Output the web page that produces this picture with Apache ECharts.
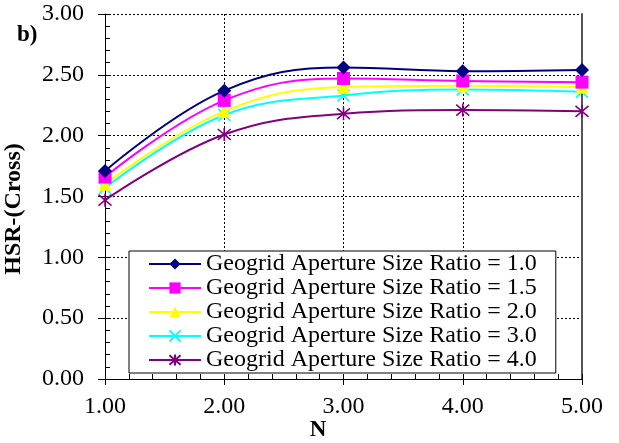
<!DOCTYPE html>
<html><head><meta charset="utf-8">
<script src="https://cdn.jsdelivr.net/npm/echarts@6/dist/echarts.min.js"></script>
<style>html,body{margin:0;padding:0;background:#fff}#c{width:619px;height:443px}</style>
</head><body><div id="c"></div>
<script>
const xValues = [1, 2, 3, 4, 5];
const seriesNames = [
  'Geogrid Aperture Size Ratio = 1.0',
  'Geogrid Aperture Size Ratio = 1.5',
  'Geogrid Aperture Size Ratio = 2.0',
  'Geogrid Aperture Size Ratio = 3.0',
  'Geogrid Aperture Size Ratio = 4.0'
];
const ratio10 = [1.71, 2.37, 2.56, 2.53, 2.54];
const ratio15 = [1.66, 2.29, 2.47, 2.45, 2.44];
const ratio20 = [1.60, 2.20, 2.40, 2.41, 2.40];
const ratio30 = [1.57, 2.17, 2.33, 2.38, 2.36];
const ratio40 = [1.47, 2.01, 2.18, 2.21, 2.20];
const yTickLabels = ['0.00','0.50','1.00','1.50','2.00','2.50','3.00'];
const xTickLabels = ['1.00','2.00','3.00','4.00','5.00'];

const FONT = '"Liberation Serif", "Times New Roman", serif';
const colors = ['#000080', '#FF00FF', '#FFFF00', '#00FFFF', '#800080'];
const symbols = [
  'diamond', 'rect', 'triangle',
  'path://M0,0L10,10M10,0L0,10',
  'path://M5,0L5,10M0.8,0.8L9.2,9.2M9.2,0.8L0.8,9.2'
];
const sizes = [14, 13, 13, 12, 13];
const allData = [ratio10, ratio15, ratio20, ratio30, ratio40];

const series = allData.map((vals, i) => ({
  name: seriesNames[i],
  type: 'line',
  smooth: 0.4,
  xAxisIndex: 0, yAxisIndex: 0,
  data: vals.map((v, j) => [xValues[j], v]),
  symbol: symbols[i],
  symbolSize: sizes[i],
  showAllSymbol: true,
  lineStyle: { color: colors[i], width: 2 },
  itemStyle: i >= 3
    ? { color: 'rgba(0,0,0,0)', borderColor: colors[i], borderWidth: 1.6 }
    : { color: colors[i], borderColor: colors[i], borderWidth: 0 },
  emphasis: { disabled: true },
  z: 10 - i
}));

const chart = echarts.init(document.getElementById('c'), null, { renderer: 'canvas' });
chart.setOption({
  animation: false,
  backgroundColor: '#fff',
  grid: { left: 105, right: 37, top: 14, bottom: 64, containLabel: false },
  xAxis: [
    {
      type: 'value', min: 1, max: 5, interval: 1, position: 'bottom',
      axisLine: { show: true, lineStyle: { color: '#000', width: 1 } },
      axisTick: { show: true, inside: false, length: 6, lineStyle: { color: '#000' } },
      axisLabel: {
        margin: 16, fontFamily: FONT, fontSize: 24, color: '#000',
        formatter: v => xTickLabels[xValues.indexOf(v)] || ''
      },
      splitLine: { show: true, lineStyle: { color: '#000', type: [2, 2], width: 1 } }
    },
    {
      type: 'value', min: 1, max: 5, interval: 0.2, position: 'bottom',
      axisLine: { show: false },
      axisTick: { show: true, inside: true, length: 5, lineStyle: { color: '#000' } },
      axisLabel: { show: false }, splitLine: { show: false }
    },
    {
      type: 'value', min: 1, max: 5, position: 'top',
      axisLine: { show: true, lineStyle: { color: '#000', width: 1 } },
      axisTick: { show: false }, axisLabel: { show: false }, splitLine: { show: false }
    }
  ],
  yAxis: [
    {
      type: 'value', min: 0, max: 3, interval: 0.5, position: 'left',
      axisLine: { show: true, lineStyle: { color: '#000', width: 1 } },
      axisTick: { show: true, inside: false, length: 7, lineStyle: { color: '#000' } },
      axisLabel: {
        margin: 21, fontFamily: FONT, fontSize: 24, color: '#000',
        formatter: v => yTickLabels[Math.round(v / 0.5)]
      },
      splitLine: { show: true, lineStyle: { color: '#000', type: [2, 2], width: 1 } }
    },
    {
      type: 'value', min: 0, max: 3, interval: 0.1, position: 'left',
      axisLine: { show: false },
      axisTick: { show: true, inside: true, length: 5, lineStyle: { color: '#000' } },
      axisLabel: { show: false }, splitLine: { show: false }
    },
    {
      type: 'value', min: 0, max: 3, position: 'right',
      axisLine: { show: true, lineStyle: { color: '#555', width: 2 } },
      axisTick: { show: false }, axisLabel: { show: false }, splitLine: { show: false }
    }
  ],
  legend: {
    orient: 'vertical',
    left: 129, top: 251,
    padding: [1, 19, 1, 19],
    itemGap: 0,
    itemWidth: 52, itemHeight: 14,
    backgroundColor: '#fff',
    borderColor: '#000', borderWidth: 1, borderRadius: 0,
    textStyle: { fontFamily: FONT, fontSize: 24, color: '#000', lineHeight: 23.3 },
    data: seriesNames
  },
  graphic: [
    { type: 'text', left: 17, top: 24, style: { text: 'b)', font: 'bold 23px ' + FONT, fill: '#000' } },
    { type: 'text', x: 14, y: 209, rotation: Math.PI / 2, style: { text: 'HSR-(Cross)', font: 'bold 24px ' + FONT, fill: '#000', align: 'center', verticalAlign: 'middle' } },
    { type: 'text', x: 318, y: 430, style: { text: 'N', font: 'bold 23px ' + FONT, fill: '#000', align: 'center', verticalAlign: 'middle' } }
  ],
  series: series
});
</script>
</body></html>
